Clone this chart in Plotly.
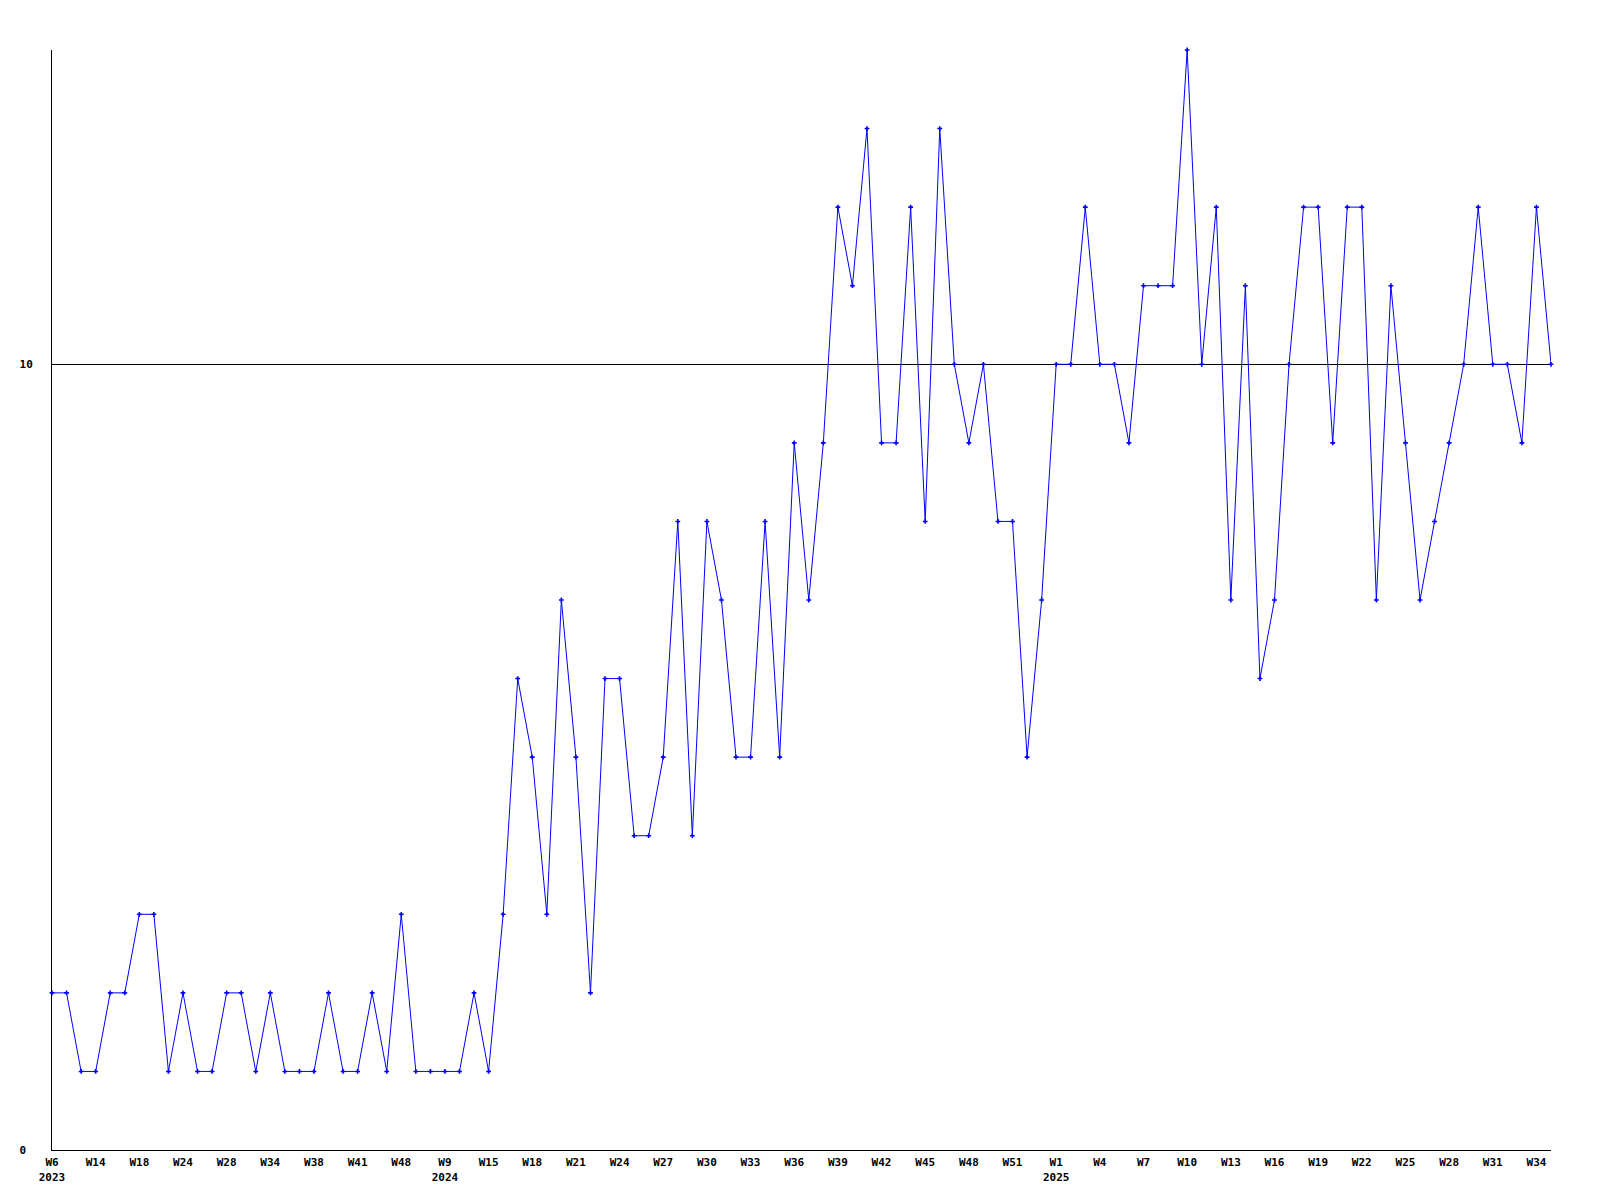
import plotly.graph_objects as go

# Week categories (year-week), one per data point
weeks_2023 = ["W6", "W7", "W10", "W14", "W15", "W17", "W18", "W20", "W22", "W24",
              "W25", "W27", "W28", "W30", "W32", "W34", "W35", "W37", "W38", "W39",
              "W40", "W41", "W44", "W46", "W48", "W50", "W52"]
weeks_2024 = ["W9", "W12", "W13"] + [f"W{w}" for w in range(15, 54)]
weeks_2025 = [f"W{w}" for w in range(1, 36)]

values = [2, 2, 1, 1, 2, 2, 3, 3, 1, 2, 1, 1, 2, 2, 1, 2, 1, 1, 1, 2,
          1, 1, 2, 1, 3, 1, 1, 1, 1, 2, 1, 3, 6, 5, 3, 7, 5, 2, 6, 6,
          4, 4, 5, 8, 4, 8, 7, 5, 5, 8, 5, 9, 7, 9, 12, 11, 13, 9, 9, 12,
          8, 13, 10, 9, 10, 8, 8, 5, 7, 10, 10, 12, 10, 10, 9, 11, 11, 11, 14, 10,
          12, 7, 11, 6, 7, 10, 12, 12, 9, 12, 12, 7, 11, 9, 7, 8, 9, 10, 12, 10,
          10, 9, 12, 10]

y_ticks = [0, 10]
y_tick_labels = ["0\u00a0", "10"]  # left-aligned look in monospace

categories = ([f"2023-{w}" for w in weeks_2023] +
              [f"2024-{w}" for w in weeks_2024] +
              [f"2025-{w}" for w in weeks_2025])

# tick labels every 3rd point; first label of each year gets the year beneath
tickvals, ticktext, seen_years = [], [], set()
for i in range(0, len(categories), 3):
    year, wk = categories[i].split("-")
    tickvals.append(categories[i])
    if year not in seen_years:
        seen_years.add(year)
        ticktext.append(f"{wk}<br>{year}")
    else:
        ticktext.append(wk)

font = dict(family="DejaVu Sans Mono", size=11, color="black", weight="bold")

fig = go.Figure(go.Scatter(
    x=categories, y=values, mode="lines+markers",
    line=dict(color="#0000ff", width=1),
    marker=dict(symbol="cross", size=4, color="#0000ff", line=dict(width=0)),
    cliponaxis=False, hoverinfo="x+y",
))

fig.update_layout(
    width=1600, height=1200,
    margin=dict(l=42, r=57, t=42, b=58),
    paper_bgcolor="white", plot_bgcolor="white",
    showlegend=False, font=font,
    xaxis=dict(type="category", range=[0, len(categories) - 1],
               tickmode="array", tickvals=tickvals, ticktext=ticktext,
               showgrid=False, zeroline=False, showline=True, linecolor="black",
               linewidth=1, ticks="", tickfont=font, ticklabelstandoff=2),
    yaxis=dict(range=[0, 14], tickmode="array", tickvals=y_ticks,
               ticktext=y_tick_labels,
               showgrid=True, gridcolor="black", gridwidth=1,
               zeroline=False, showline=True, linecolor="black", linewidth=1,
               ticks="", tickfont=font, ticklabelstandoff=16),
)

fig.write_html("out.html")
